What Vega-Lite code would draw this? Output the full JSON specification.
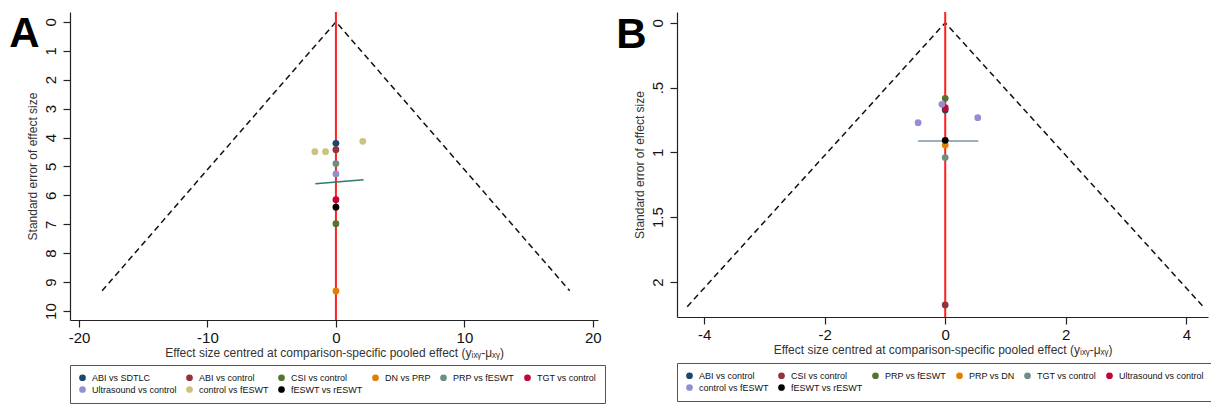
{
  "$schema": "https://vega.github.io/schema/vega-lite/v6.json",
  "padding": {"left": 9, "top": 11, "right": 0, "bottom": 0},
  "background": "white",
  "config": {
    "view": {"stroke": null},
    "font": "Liberation Sans",
    "axis": {"grid": false, "domainColor": "#222", "tickColor": "#222", "labelColor": "#111", "titleColor": "#333", "labelFont": "Liberation Sans", "titleFont": "Liberation Sans", "labelFontSize": 15, "titleFontSize": 12, "titleFontWeight": "normal", "tickSize": 7, "labelPadding": 5, "domainWidth": 1.2, "tickWidth": 1.2, "labelOverlap": false},
    "legend": {"labelFont": "Liberation Sans", "labelFontSize": 9, "labelColor": "#111", "symbolType": "circle", "symbolSize": 45, "symbolStrokeWidth": 0, "strokeColor": "#555", "padding": 8, "columnPadding": 8, "rowPadding": 2, "labelOffset": 5},
    "concat": {"spacing": 10}
  },
  "datasets": {
    "funnelA": [{"x": -18.2, "se": 9.3}, {"x": 0, "se": 0}, {"x": 18.2, "se": 9.3}],
    "lineA": [{"x": -1.6, "se": 5.6}, {"x": 2.15, "se": 5.46}],
    "zeroA": [{"x": 0}],
    "ptsA": [
      {"comparison": "ABI vs SDTLC", "x": 0, "se": 4.2},
      {"comparison": "ABI vs control", "x": 0, "se": 4.42},
      {"comparison": "CSI vs control", "x": 0, "se": 6.98},
      {"comparison": "DN vs PRP", "x": 0, "se": 9.31},
      {"comparison": "PRP vs fESWT", "x": 0, "se": 4.9},
      {"comparison": "TGT vs control", "x": 0, "se": 6.15},
      {"comparison": "Ultrasound vs control", "x": 0, "se": 5.26},
      {"comparison": "control vs fESWT", "x": -1.64, "se": 4.49},
      {"comparison": "control vs fESWT", "x": -0.81, "se": 4.49},
      {"comparison": "control vs fESWT", "x": 2.09, "se": 4.13},
      {"comparison": "fESWT vs rESWT", "x": 0, "se": 6.41}
    ],
    "funnelB": [{"x": -4.28, "se": 2.19}, {"x": 0, "se": 0}, {"x": 4.28, "se": 2.19}],
    "lineB": [{"x": -0.45, "se": 0.912}, {"x": 0.55, "se": 0.912}],
    "zeroB": [{"x": 0}],
    "ptsB": [
      {"comparison": "ABI vs control", "x": 0, "se": 0.673},
      {"comparison": "CSI vs control", "x": 0, "se": 2.177},
      {"comparison": "PRP vs fESWT", "x": 0, "se": 0.583},
      {"comparison": "PRP vs DN", "x": 0, "se": 0.943},
      {"comparison": "TGT vs control", "x": 0, "se": 1.04},
      {"comparison": "Ultrasound vs control", "x": 0, "se": 0.655},
      {"comparison": "control vs fESWT", "x": -0.055, "se": 0.629},
      {"comparison": "control vs fESWT", "x": -0.45, "se": 0.771},
      {"comparison": "control vs fESWT", "x": 0.54, "se": 0.732},
      {"comparison": "fESWT vs rESWT", "x": 0, "se": 0.907}
    ]
  },
  "hconcat": [
    {
      "width": 528,
      "height": 308,
      "title": {"text": "A", "orient": "left", "anchor": "end", "angle": 0, "align": "right", "baseline": "top", "fontSize": 42, "fontWeight": "bold", "font": "Liberation Sans", "offset": -44, "dy": 3, "color": "#000"},
      "encoding": {
        "x": {"field": "x", "type": "quantitative", "scale": {"domain": [-20.7, 20.4], "nice": false, "zero": false},
          "axis": {"values": [-20, -10, 0, 10, 20], "title": "Effect size centred at comparison-specific pooled effect (yᵢₓᵧ-μₓᵧ)", "labelPadding": 3, "titlePadding": 2, "labelExpr": "replace(datum.label, '−', '-')"}}
      },
      "layer": [
        {"data": {"name": "funnelA"}, "mark": {"type": "line", "color": "#111", "strokeDash": [6, 4], "strokeWidth": 1.5},
          "encoding": {"y": {"field": "se", "type": "quantitative", "scale": {"domain": [-0.34, 10.31], "reverse": true, "nice": false, "zero": false},
            "axis": {"values": [0, 1, 2, 3, 4, 5, 6, 7, 8, 9, 10], "labelOverlap": false, "title": "Standard error of effect size", "labelAngle": -90, "titlePadding": 4}}}},
        {"data": {"name": "zeroA"}, "mark": {"type": "rule", "color": "#ff2020", "strokeWidth": 2}, "encoding": {}},
        {"data": {"name": "lineA"}, "mark": {"type": "line", "color": "#2f7a6e", "strokeWidth": 1.5},
          "encoding": {"y": {"field": "se", "type": "quantitative", "scale": {"domain": [-0.34, 10.31], "reverse": true, "nice": false, "zero": false},
            "axis": {"values": [0, 1, 2, 3, 4, 5, 6, 7, 8, 9, 10], "labelOverlap": false, "title": "Standard error of effect size", "labelAngle": -90, "titlePadding": 4}}}},
        {"data": {"name": "ptsA"}, "mark": {"type": "circle", "size": 46, "opacity": 1},
          "encoding": {
            "y": {"field": "se", "type": "quantitative", "scale": {"domain": [-0.34, 10.31], "reverse": true, "nice": false, "zero": false},
              "axis": {"values": [0, 1, 2, 3, 4, 5, 6, 7, 8, 9, 10], "labelOverlap": false, "title": "Standard error of effect size", "labelAngle": -90, "titlePadding": 4}},
            "color": {"field": "comparison", "type": "nominal",
              "scale": {"domain": ["ABI vs SDTLC", "ABI vs control", "CSI vs control", "DN vs PRP", "PRP vs fESWT", "TGT vs control", "Ultrasound vs control", "control vs fESWT", "fESWT vs rESWT"],
                "range": ["#1a476f", "#90353b", "#55752f", "#e37e00", "#6e8e84", "#c10534", "#938dd2", "#cac27e", "#000000"]},
              "legend": {"title": null, "orient": "bottom", "direction": "horizontal", "columns": 6, "offset": 7}}
          }}
      ]
    },
    {
      "width": 531,
      "height": 305,
      "title": {"text": "B", "orient": "left", "anchor": "end", "angle": 0, "align": "right", "baseline": "top", "fontSize": 42, "fontWeight": "bold", "font": "Liberation Sans", "offset": -44, "dy": 4, "color": "#000"},
      "encoding": {
        "x": {"field": "x", "type": "quantitative", "scale": {"domain": [-4.45, 4.36], "nice": false, "zero": false},
          "axis": {"values": [-4, -2, 0, 2, 4], "title": "Effect size centred at comparison-specific pooled effect (yᵢₓᵧ-μₓᵧ)", "labelPadding": 3, "titlePadding": 2, "labelExpr": "replace(datum.label, '−', '-')"}}
      },
      "layer": [
        {"data": {"name": "funnelB"}, "mark": {"type": "line", "color": "#111", "strokeDash": [6, 4], "strokeWidth": 1.5},
          "encoding": {"y": {"field": "se", "type": "quantitative", "scale": {"domain": [-0.083, 2.27], "reverse": true, "nice": false, "zero": false},
            "axis": {"values": [0, 0.5, 1, 1.5, 2], "labelOverlap": false, "format": "~g", "title": "Standard error of effect size", "labelAngle": -90, "titlePadding": 4, "labelExpr": "datum.value == 0.5 ? '.5' : datum.label"}}}},
        {"data": {"name": "zeroB"}, "mark": {"type": "rule", "color": "#ff2020", "strokeWidth": 2}, "encoding": {}},
        {"data": {"name": "lineB"}, "mark": {"type": "line", "color": "#7e95ae", "strokeWidth": 1.5},
          "encoding": {"y": {"field": "se", "type": "quantitative", "scale": {"domain": [-0.083, 2.27], "reverse": true, "nice": false, "zero": false},
            "axis": {"values": [0, 0.5, 1, 1.5, 2], "labelOverlap": false, "format": "~g", "title": "Standard error of effect size", "labelAngle": -90, "titlePadding": 4, "labelExpr": "datum.value == 0.5 ? '.5' : datum.label"}}}},
        {"data": {"name": "ptsB"}, "mark": {"type": "circle", "size": 46, "opacity": 1},
          "encoding": {
            "y": {"field": "se", "type": "quantitative", "scale": {"domain": [-0.083, 2.27], "reverse": true, "nice": false, "zero": false},
              "axis": {"values": [0, 0.5, 1, 1.5, 2], "labelOverlap": false, "format": "~g", "title": "Standard error of effect size", "labelAngle": -90, "titlePadding": 4, "labelExpr": "datum.value == 0.5 ? '.5' : datum.label"}},
            "color": {"field": "comparison", "type": "nominal",
              "scale": {"domain": ["ABI vs control", "CSI vs control", "PRP vs fESWT", "PRP vs DN", "TGT vs control", "Ultrasound vs control", "control vs fESWT", "fESWT vs rESWT"],
                "range": ["#1a476f", "#90353b", "#55752f", "#e37e00", "#6e8e84", "#c10534", "#938dd2", "#000000"]},
              "legend": {"title": null, "orient": "bottom", "direction": "horizontal", "columns": 6, "offset": 8}}
          }}
      ]
    }
  ],
  "resolve": {"scale": {"color": "independent", "x": "independent", "y": "independent"}, "legend": {"color": "independent"}}
}
